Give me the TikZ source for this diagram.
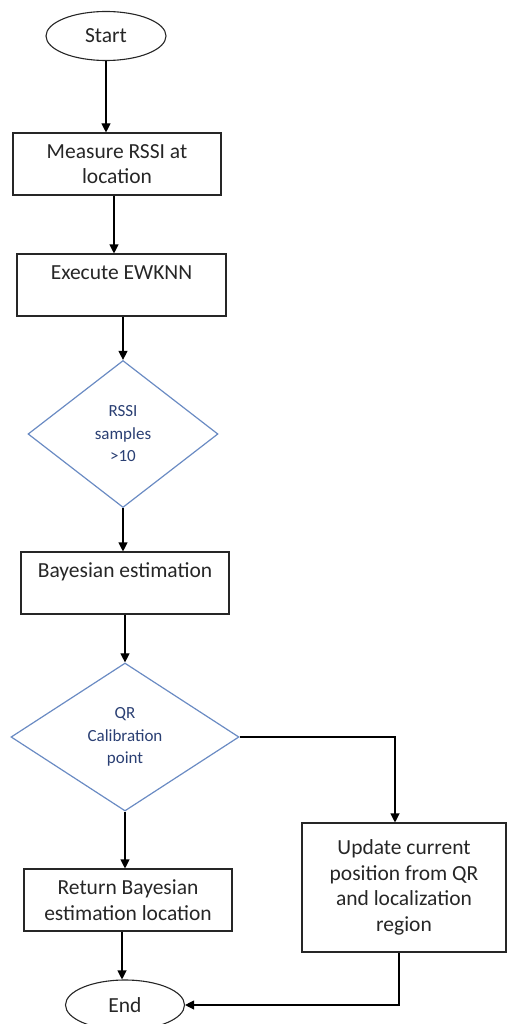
\documentclass[tikz,border=0pt]{standalone}
\usepackage{fontspec}
\setmainfont{Carlito}
\usetikzlibrary{shapes.geometric,arrows.meta,calc}
\definecolor{dline}{HTML}{6A8BC3}
\definecolor{dtext}{HTML}{2A3F73}
\tikzset{
  procbox/.style={draw=black!85, line width=1.1pt, rectangle, align=center, inner sep=2pt,
    font=\fontsize{21.5}{25.5}\selectfont, text=black!85},
  term/.style={draw=black!85, line width=1.1pt, ellipse, inner sep=0pt,
    font=\fontsize{21.5}{25.5}\selectfont, text=black!85},
  decide/.style={draw=dline, line width=1.2pt, diamond, inner sep=0pt, align=center,
    font=\fontsize{17}{22.5}\selectfont, text=dtext},
  flow/.style={draw=black, line width=1.1pt, -{Triangle[length=9pt,width=9pt]}}
}
\begin{document}
\begin{tikzpicture}[x=1pt,y=-1pt]
\useasboundingbox (0,0) rectangle (507,1024);
\node[term, minimum width=120, minimum height=49] (start) at (106,36) {Start};
\node[procbox, minimum width=208, minimum height=62] (measure) at (117,164) {Measure RSSI at\\location};
\node[procbox, minimum width=209, minimum height=62] (execute) at (121.5,285) {Execute EWKNN\\\mbox{}};
\node[decide, minimum width=190, minimum height=147] (d1) at (123,434) {RSSI\\samples\\>10};
\node[procbox, minimum width=208, minimum height=62] (bayes) at (125,583) {Bayesian estimation\\\mbox{}};
\node[decide, minimum width=228, minimum height=148] (d2) at (125,737) {QR\\Calibration\\point};
\node[procbox, minimum width=208, minimum height=62] (ret) at (128,900) {Return Bayesian\\estimation location};
\node[procbox, minimum width=204, minimum height=129] (upd) at (404,887.5) {Update current\\position from QR\\and localization\\region};
\node[term, minimum width=119, minimum height=50] (end) at (125,1005) {End};

\draw[flow] (start.south) -- (start.south |- measure.north);
\draw[flow] ([xshift=-3]measure.south) -- ([xshift=-3]measure.south |- execute.north);
\draw[flow] (d1.north |- execute.south) -- (d1.north);
\draw[flow] (d1.south) -- (d1.south |- bayes.north);
\draw[flow] (d2.north |- bayes.south) -- (d2.north);
\draw[flow] (d2.south) -- (d2.south |- ret.north);
\draw[flow] (d2.east) -| ([xshift=-9]upd.north);
\draw[flow] ([xshift=-6]ret.south) -- ([xshift=-6]ret.south |- end.north);
\draw[flow] ([xshift=-5]upd.south) |- (end.east);
\end{tikzpicture}
\end{document}
